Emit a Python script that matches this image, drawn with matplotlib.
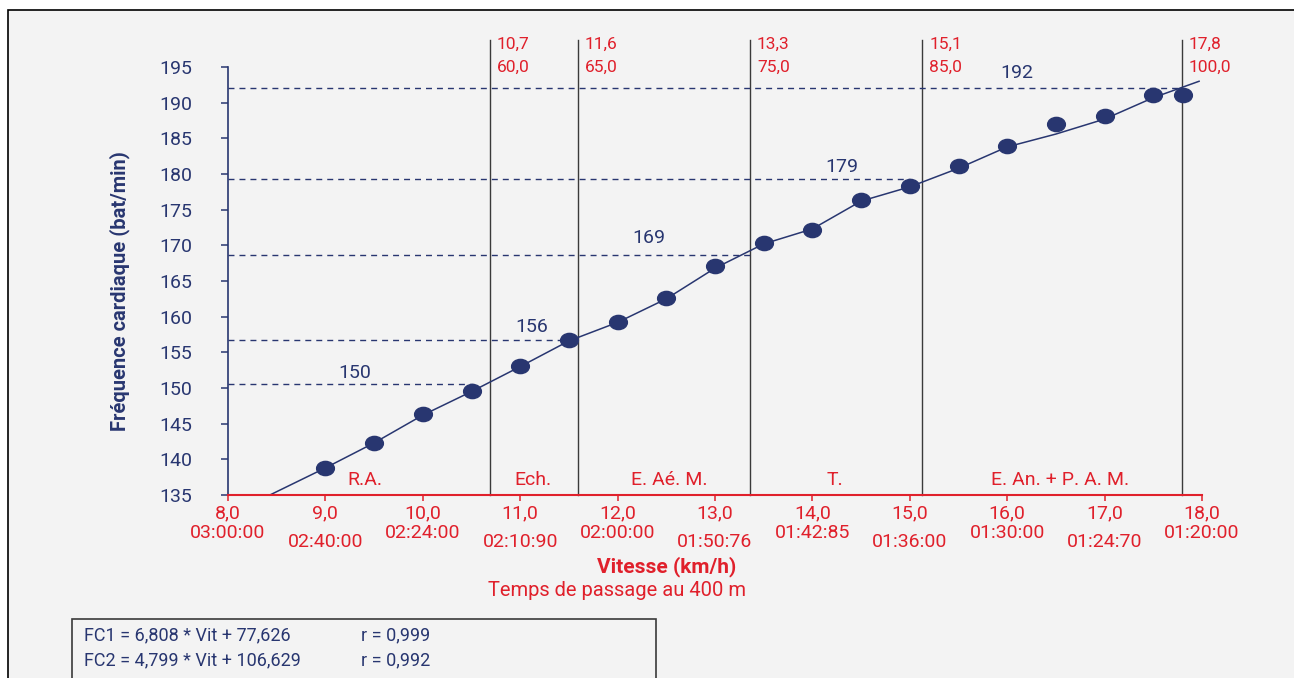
import matplotlib.pyplot as plt
from matplotlib.path import Path
from matplotlib.patches import Rectangle

plt.rcParams['font.family'] = ['Roboto', 'DejaVu Sans']

navy = '#283670'
red = '#e0202b'
grey = '#3a3a3a'

# measured points
speed = [9.0, 9.5, 10.0, 10.5, 11.0, 11.5, 12.0, 12.5, 13.0, 13.5,
         14.0, 14.5, 15.0, 15.5, 16.0, 16.5, 17.0, 17.5, 17.8]
fc = [138.8, 142.3, 146.4, 149.6, 153.1, 156.7, 159.3, 162.6, 167.1, 170.3,
      172.2, 176.4, 178.3, 181.1, 183.9, 187.0, 188.1, 191.1, 191.1]

# trend line as drawn
line_x = [8.43, 9.0, 9.5, 10.0, 10.5, 11.0, 11.5, 12.0, 12.5, 13.0, 13.5,
          14.0, 14.5, 15.0, 15.5, 16.0, 16.5, 17.0, 17.5, 17.97]
line_y = [135.0, 138.8, 142.3, 146.2, 149.5, 153.0, 156.6, 159.2, 162.5, 166.8,
          170.2, 172.3, 176.2, 178.2, 180.8, 183.8, 185.6, 187.7, 190.7, 193.0]

# zone boundaries (where drawn, speed label, % VMA)
zone_x = [10.69, 11.59, 13.36, 15.13, 17.79]
zone_speed_lbl = ['10,7', '11,6', '13,3', '15,1', '17,8']
zone_pct_lbl = ['60,0', '65,0', '75,0', '85,0', '100,0']

# heart rate reference levels
ref_y = [150.6, 156.7, 168.6, 179.3, 192.1]
ref_end = [10.52, 11.5, 13.36, 15.0, 17.79]
ref_lbl = ['150', '156', '169', '179', '192']
ref_lbl_x = [9.30, 11.12, 12.32, 14.30, 16.10]
ref_lbl_y = [152.1, 158.5, 171.0, 181.0, 194.2]

zone_names = ['R.A.', 'Ech.', 'E. Aé. M.', 'T.', 'E. An. + P. A. M.']
zone_name_x = [9.41, 11.13, 12.53, 14.23, 16.54]

xticks = [8, 9, 10, 11, 12, 13, 14, 15, 16, 17, 18]
xtick_lbl = ['8,0', '9,0', '10,0', '11,0', '12,0', '13,0', '14,0', '15,0', '16,0', '17,0', '18,0']
time_lbl = ['03:00:00', '02:40:00', '02:24:00', '02:10:90', '02:00:00', '01:50:76',
            '01:42:85', '01:36:00', '01:30:00', '01:24:70', '01:20:00']
yticks = [135, 140, 145, 150, 155, 160, 165, 170, 175, 180, 185, 190, 195]

fig = plt.figure(figsize=(12.94, 6.78), dpi=100, facecolor='white')
fig.patches.append(Rectangle((8/1294, -0.1), 1.2, 1.1 - 10/678, transform=fig.transFigure,
                             facecolor='#f3f3f3', edgecolor='black', linewidth=1.2, zorder=-10))
ax = fig.add_axes([228/1294, 1 - 495/678, (1202 - 228)/1294, (495 - 67)/678])
ax.set_facecolor('none')
ax.set_xlim(8, 18)
ax.set_ylim(135, 195)

for s in ['top', 'right']:
    ax.spines[s].set_visible(False)
ax.spines['left'].set_color(navy)
ax.spines['left'].set_linewidth(1.2)
ax.spines['bottom'].set_color(red)
ax.spines['bottom'].set_linewidth(1.5)
ax.spines['bottom'].set_zorder(5)

ax.set_yticks(yticks)
ax.tick_params(axis='y', colors=navy, labelsize=14, length=5, width=1.1, pad=21)
ax.set_xticks(xticks, labels=xtick_lbl)
ax.tick_params(axis='x', colors=red, labelsize=14, length=4.3, width=1.1, pad=2.5)

for i, (xv, t) in enumerate(zip(xticks, time_lbl)):
    off = -27.4 if i % 2 == 0 else -33.8
    ax.annotate(t, xy=(xv, 0), xycoords=('data', 'axes fraction'), xytext=(0, off),
                textcoords='offset points', ha='center', va='center', color=red, fontsize=14,
                annotation_clip=False)

# zone vertical lines and labels
for xv, s1, s2 in zip(zone_x, zone_speed_lbl, zone_pct_lbl):
    ax.plot([xv, xv], [135, 198.8], color=grey, lw=1.0, clip_on=False, zorder=2)
    ax.annotate(s1, xy=(xv, 195), xytext=(5, 16.5), textcoords='offset points',
                ha='left', va='center', color=red, fontsize=12.5, annotation_clip=False)
    ax.annotate(s2, xy=(xv, 195), xytext=(5, 0), textcoords='offset points',
                ha='left', va='center', color=red, fontsize=12.5, annotation_clip=False)

# dashed reference lines
for yv, xe, lbl, lx, ly in zip(ref_y, ref_end, ref_lbl, ref_lbl_x, ref_lbl_y):
    ax.plot([8, xe], [yv, yv], color=navy, lw=1.0, dashes=(4.3, 3.6), zorder=2)
    ax.text(lx, ly, lbl, color=navy, fontsize=14, ha='center', va='center')

for nm, nx in zip(zone_names, zone_name_x):
    ax.text(nx, 137.1, nm, color=red, fontsize=14, ha='center', va='center')

ax.plot(line_x, line_y, color=navy, lw=1.1, zorder=3, clip_on=False)
circ = Path.unit_circle()
ell = Path(circ.vertices * [1.0, 0.8], circ.codes)
ax.plot(speed, fc, linestyle='none', marker=ell, markersize=12.8, color=navy, zorder=4)

ax.set_ylabel('Fréquence cardiaque (bat/min)', color=navy, fontsize=14.5, fontweight='bold')
ax.yaxis.set_label_coords((130 - 228)/974, (495 - 291)/428)

fig.text(667/1294, 1 - 567/678, 'Vitesse (km/h)', color=red, fontsize=15, fontweight='bold',
         ha='center', va='center')
fig.text(617/1294, 1 - 590/678, 'Temps de passage au 400 m', color=red, fontsize=14.5,
         ha='center', va='center')

# equation box
fig.patches.append(Rectangle((72/1294, -0.1), (656 - 72)/1294, 0.1 + (678 - 619)/678,
                             transform=fig.transFigure, facecolor='none', edgecolor=grey,
                             linewidth=1.2))
fig.text(84/1294, 1 - 635/678, 'FC1 = 6,808 * Vit + 77,626', color=navy, fontsize=13, va='center')
fig.text(361/1294, 1 - 635/678, 'r = 0,999', color=navy, fontsize=13, va='center')
fig.text(84/1294, 1 - 660/678, 'FC2 = 4,799 * Vit + 106,629', color=navy, fontsize=13, va='center')
fig.text(361/1294, 1 - 660/678, 'r = 0,992', color=navy, fontsize=13, va='center')

fig.savefig('out.png', dpi=100, facecolor=fig.get_facecolor())
